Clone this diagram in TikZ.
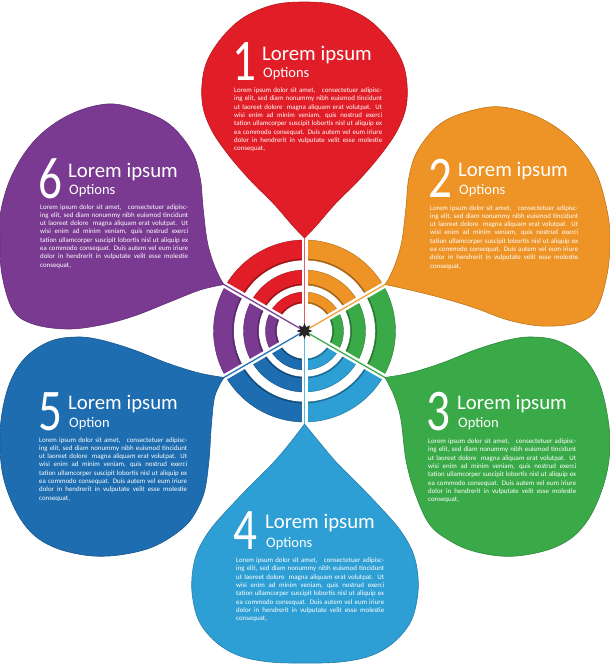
\documentclass[tikz,border=0pt]{standalone}
\usepackage{fontspec}
\setmainfont{Carlito}
\usepackage{graphicx}
\usetikzlibrary{shapes.geometric}
\definecolor{cRed}{HTML}{E11E27}
\definecolor{cOrange}{HTML}{EE9426}
\definecolor{cGreen}{HTML}{3AAA48}
\definecolor{cLBlue}{HTML}{2E9FD4}
\definecolor{cBlue}{HTML}{1D6DB0}
\definecolor{cPurple}{HTML}{7A3A92}
\definecolor{sRed}{HTML}{E85A64}
\definecolor{sOrange}{HTML}{F0A23C}
\definecolor{sGreen}{HTML}{3DAA4B}
\definecolor{sLBlue}{HTML}{5DB7E3}
\definecolor{sBlue}{HTML}{2873B6}
\definecolor{sPurple}{HTML}{7E4496}
\newcommand{\loremblock}{\parbox[t]{148pt}{\fontsize{6.9}{8.33}\selectfont
\makebox[148pt][s]{Lorem ipsum dolor sit amet,\ \ \ consectetuer adipisc-}\\
\makebox[148pt][s]{ing elit, sed diam nonummy nibh euismod tincidunt}\\
\makebox[148pt][s]{ut laoreet dolore\ \ magna aliquam erat volutpat.\ \ Ut}\\
\makebox[148pt][s]{wisi enim ad minim veniam, quis nostrud exerci}\\
\makebox[148pt][s]{tation ullamcorper suscipit lobortis nisl ut aliquip ex}\\
\makebox[148pt][s]{ea commodo consequat. Duis autem vel eum iriure}\\
\makebox[148pt][s]{dolor in hendrerit in vulputate velit esse molestie}\\
consequat,}}
\newcommand{\bigdig}[1]{\scalebox{0.8}[1]{#1}}
\tikzset{
  band/.style={fill=#1, draw=#1!72!black, line width=0.4pt},
  bandshade/.style={draw=#1!65!black, line width=1pt},
  petalfill/.style={fill=#1, draw=#1!80!black, line width=0.6pt},
  spokeline/.style={draw=#1, line width=1.3pt},
  gapline/.style={draw=white, line width=6pt},
  digit/.style={anchor=base west, inner sep=0pt, text=white, font=\fontsize{59}{59}\selectfont},
  ttl/.style={anchor=base west, inner sep=0pt, text=white, font=\fontsize{20.8}{22}\selectfont},
  opt/.style={anchor=base west, inner sep=0pt, text=white, font=\fontsize{14.5}{16}\selectfont},
  bodytxt/.style={anchor=base west, inner sep=0pt, text=white}
}
\begin{document}
\begin{tikzpicture}[yscale=-1, x=1pt, y=1pt]
\useasboundingbox (0,0) rectangle (610,664);
\fill[white] (0,0) rectangle (610,664);
% rings
\begin{scope}[shift={(304.5,331)}]
  \foreach \c/\a in {cRed/210, cOrange/270, cGreen/330, cLBlue/30, cBlue/90, cPurple/150}{
    \foreach \ri/\ro in {28/39, 46/61, 71/91}{
      \pgfmathsetmacro\b{\a+60}
      \path[band=\c] (\a:\ro) arc[start angle=\a, end angle=\b, radius=\ro]
        -- (\b:\ri) arc[start angle=\b, end angle=\a, radius=\ri] -- cycle;
      \pgfmathsetmacro\rs{\ri+0.8}
      \draw[bandshade=\c] (\a:\rs) arc[start angle=\a, end angle=\b, radius=\rs];
    }
  }
  \foreach \a in {270,330,30,90,150,210} \draw[gapline] (0,0) -- (\a:96);
  \coordinate (t1) at (270:93);
  \coordinate (t2) at (330:93);
  \coordinate (t3) at (30:93);
  \coordinate (t4) at (90:93);
  \coordinate (t5) at (150:93);
  \coordinate (t6) at (210:93);
\end{scope}
% petals
\path[petalfill=cRed] plot[smooth, tension=0.6] coordinates {(304.5,238) (293,226) (273,203) (250,180) (227,153) (210,127) (202,100) (205,67) (220,40) (243,18) (273,5) (304.5,2) (336,5) (366,18) (389,40) (404,67) (407,100) (399,127) (382,153) (359,180) (336,203) (316,226) (304.5,238)} -- cycle;
\path[petalfill=cOrange] plot[smooth, tension=0.6] coordinates {(385,284.5) (389,278) (396,262) (402,240) (406,207) (409,177) (418,150) (440,124) (470,111) (502,107) (540,118) (573,141) (596,173) (607,210) (610,240) (607,275) (596,310) (576,323) (542,326) (508,320) (475,308) (442,298) (410,290) (385,284.5)} -- cycle;
\path[petalfill=cGreen] plot[smooth, tension=0.6] coordinates {(385,377.5) (410,373) (442,363) (475,350) (508,340) (532,337) (558,341) (582,356) (598,380) (607,413) (610,447) (605,480) (592,513) (575,535) (553,548) (525,555) (500,556) (473,551) (452,542) (430,525) (415,493) (406,460) (401,420) (395,398) (389,385) (385,377.5)} -- cycle;
\path[petalfill=cLBlue] plot[smooth, tension=0.6] coordinates {(304.5,424) (320,443) (337,463) (357,483) (380,507) (400,530) (413,553) (418,577) (417,600) (410,623) (393,643) (370,656) (340,662) (305,663) (270,662) (240,656) (217,643) (200,623) (193,600) (192,577) (197,553) (210,530) (230,507) (253,483) (273,463) (290,443) (304.5,424)} -- cycle;
\path[petalfill=cBlue] plot[smooth, tension=0.6] coordinates {(224,377.5) (199,373) (167,363) (134,350) (101,340) (77,337) (51,341) (27,356) (11,380) (2,413) (0,447) (4,480) (17,513) (34,535) (56,548) (84,555) (109,556) (136,552) (157,545) (178,532) (192,518) (204,493) (209,460) (211,430) (214,400) (219,386) (224,377.5)} -- cycle;
\path[petalfill=cPurple] plot[smooth, tension=0.6] coordinates {(224,284.5) (220,278) (213,262) (207,240) (203,207) (200,177) (191,150) (169,124) (139,110) (107,104) (69,115) (36,139) (13,173) (1,210) (0,240) (2,275) (13,310) (33,324) (67,329) (101,325) (134,316) (167,303) (200,290) (224,284.5)} -- cycle;
% center star and spokes
\coordinate (ctr) at (304.5,331);
\draw[spokeline=sRed] (ctr) -- (t1);
\draw[spokeline=sOrange] (ctr) -- (t2);
\draw[spokeline=sGreen] (ctr) -- (t3);
\draw[spokeline=sLBlue] (ctr) -- (t4);
\draw[spokeline=sBlue] (ctr) -- (t5);
\draw[spokeline=sPurple] (ctr) -- (t6);
\node[star, star points=8, star point ratio=1.9, fill=black!85, inner sep=0pt, minimum size=16pt] (hub) at (ctr) {};
% texts
\node[digit] (d1) at (232,80) {\bigdig{1}};
\node[ttl] (h1) at (262,60) {Lorem ipsum};
\node[opt] (o1) at (263,77) {Options};
\node[bodytxt] (b1) at (234,92.5) {\loremblock};

\node[digit] (d2) at (428,197) {\bigdig{2}};
\node[ttl] (h2) at (458,176) {Lorem ipsum};
\node[opt] (o2) at (459,194) {Options};
\node[bodytxt] (b2) at (430,210) {\loremblock};

\node[digit] (d3) at (426,430) {\bigdig{3}};
\node[ttl] (h3) at (457,409) {Lorem ipsum};
\node[opt] (o3) at (458,427) {Option};
\node[bodytxt] (b3) at (428,443.5) {\loremblock};

\node[digit] (d4) at (233,549) {\bigdig{4}};
\node[ttl] (h4) at (265,528) {Lorem ipsum};
\node[opt] (o4) at (266,547) {Options};
\node[bodytxt] (b4) at (236,562.5) {\loremblock};

\node[digit] (d5) at (38,430) {\bigdig{5}};
\node[ttl] (h5) at (68,409) {Lorem ipsum};
\node[opt] (o5) at (69,427) {Option};
\node[bodytxt] (b5) at (39,442) {\loremblock};

\node[digit] (d6) at (38,198) {\bigdig{6}};
\node[ttl] (h6) at (68,177) {Lorem ipsum};
\node[opt] (o6) at (69,194) {Options};
\node[bodytxt] (b6) at (40,209) {\loremblock};
\end{tikzpicture}
\end{document}
